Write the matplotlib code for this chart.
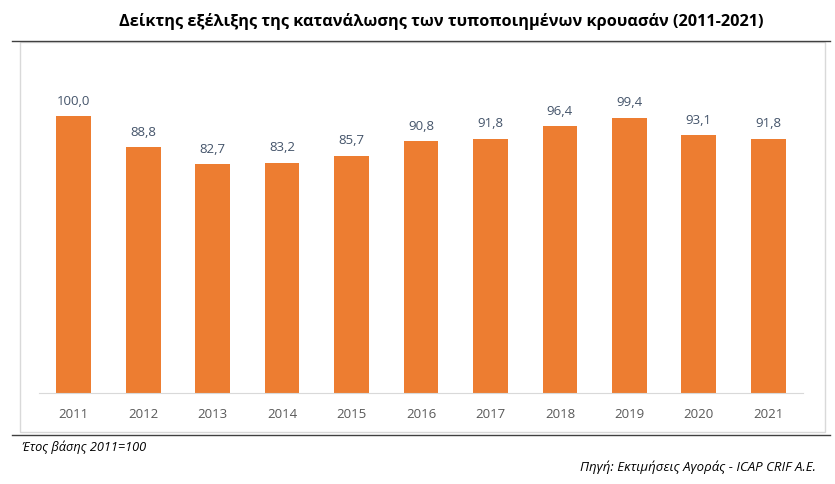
import numpy as np
import matplotlib.pyplot as plt
from matplotlib.patches import Rectangle
from matplotlib.lines import Line2D

plt.rcParams['font.family'] = ['Open Sans', 'DejaVu Sans']

# Data
years = ['2011', '2012', '2013', '2014', '2015', '2016', '2017', '2018', '2019', '2020', '2021']
index_values = [100.0, 88.8, 82.7, 83.2, 85.7, 90.8, 91.8, 96.4, 99.4, 93.1, 91.8]

W, H = 835, 484
fig = plt.figure(figsize=(W / 100, H / 100), dpi=100)

# Light frame around the chart area
fig.patches.append(Rectangle((20 / W, 1 - 432 / H), 805 / W, 390 / H,
                             transform=fig.transFigure, facecolor='none',
                             edgecolor='#D9D9D9', linewidth=1, zorder=0))

# Dark rules above and below
for y in (41, 435):
    fig.add_artist(Line2D([12 / W, 830 / W], [1 - y / H, 1 - y / H],
                          transform=fig.transFigure, color='#404040', linewidth=1))

ax = fig.add_axes([39 / W, 1 - 393 / H, 764 / W, 313 / H])
x = np.arange(len(years))
bars = ax.bar(x, index_values, width=0.5, color='#ED7D31', zorder=2)

ax.set_xlim(-0.5, len(years) - 0.5)
ax.set_ylim(0, 313 / 2.77)
ax.set_yticks([])
ax.set_xticks(x)
ax.set_xticklabels(years, fontsize=9.5, color='#595959')
ax.tick_params(axis='x', length=0, pad=11)

for side in ['top', 'right', 'left']:
    ax.spines[side].set_visible(False)
ax.spines['bottom'].set_color('#D9D9D9')
ax.patch.set_alpha(0)

for b, v in zip(bars, index_values):
    ax.annotate(f'{v:.1f}'.replace('.', ','), (b.get_x() + b.get_width() / 2, v),
                xytext=(0, 6), textcoords='offset points', ha='center', va='bottom',
                fontsize=9.5, color='#44546A')

fig.text(441 / W, 1 - 22 / H, 'Δείκτης εξέλιξης της κατανάλωσης των τυποποιημένων κρουασάν (2011-2021)',
         ha='center', va='center', fontsize=11.7, fontweight='bold', color='black')
fig.text(22 / W, 1 - 447 / H, 'Έτος βάσης 2011=100', ha='left', va='center',
         fontsize=9.2, style='italic', color='black')
fig.text(816 / W, 1 - 467 / H, 'Πηγή: Εκτιμήσεις Αγοράς - ICAP CRIF A.E.', ha='right', va='center',
         fontsize=9.5, style='italic', color='black')

fig.savefig('out.png', dpi=100)
